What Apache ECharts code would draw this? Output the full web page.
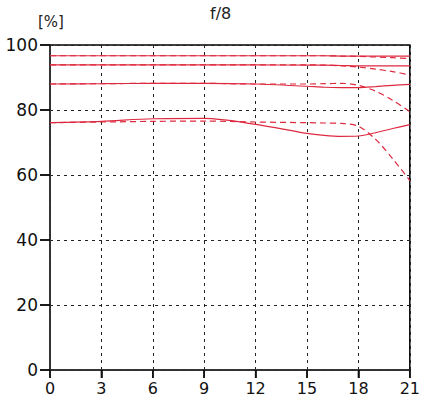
<!DOCTYPE html>
<html>
<head>
<meta charset="utf-8">
<script src="https://cdn.jsdelivr.net/npm/echarts@6/dist/echarts.min.js"></script>
<style>html,body{margin:0;padding:0;background:#fff}#c{width:423px;height:401px}</style>
</head>
<body>
<div id="c"></div>
<script>
const xs = [0, 3, 6, 9, 12, 15, 16, 17, 18, 19, 20, 21];
const s97Solid  = [96.7, 96.7, 96.7, 96.7, 96.7, 96.7, 96.7, 96.6, 96.6, 96.6, 96.6, 96.6];
const s97Dashed = [96.7, 96.7, 96.7, 96.7, 96.7, 96.7, 96.7, 96.6, 96.5, 96.3, 96.1, 95.8];
const s94Solid  = [93.9, 93.9, 93.9, 93.9, 93.9, 93.8, 93.8, 93.7, 93.6, 93.6, 93.6, 93.6];
const s94Dashed = [93.9, 93.9, 93.9, 93.9, 93.9, 93.9, 93.8, 93.6, 93.2, 92.6, 91.8, 90.8];
const s88Solid  = [88.0, 88.1, 88.2, 88.2, 88.0, 87.3, 87.0, 86.9, 86.9, 87.2, 87.6, 87.9];
const s88Dashed = [88.0, 88.1, 88.2, 88.2, 88.0, 88.0, 88.1, 88.2, 87.6, 85.8, 83.0, 79.5];
const s76Solid  = [76.1, 76.5, 77.3, 77.4, 75.6, 72.8, 72.2, 71.9, 72.0, 73.0, 74.3, 75.5];
const s76Dashed = [76.1, 76.3, 76.5, 76.6, 76.3, 76.1, 76.0, 75.9, 75.0, 71.0, 65.0, 58.3];
const xTicks = [0, 3, 6, 9, 12, 15, 18, 21];
const yTicks = [0, 20, 40, 60, 80, 100];
const title = 'f/8';
const unit = '[%]';

const RED = '#de2a40';
const font = 'DejaVu Sans';
function mk(vals, dashed) {
  return {
    type: 'line', smooth: 0.3, symbol: 'none', clip: true,
    data: xs.map((x, i) => [x, vals[i]]),
    lineStyle: { color: RED, width: 1.2, type: dashed ? [6, 4] : 'solid' },
    z: 5
  };
}
const chart = echarts.init(document.getElementById('c'), null, { renderer: 'svg' });
chart.setOption({
  animation: false,
  graphic: [
    { type: 'text', left: 210, top: 5, style: { text: title, fontFamily: font, fontSize: 16, fill: '#222', letterSpacing: 2 } },
    { type: 'text', left: 38, top: 14, style: { text: unit, fontFamily: font, fontSize: 15, fill: '#222' } }
  ],
  grid: { left: 50, right: 10, top: 45, bottom: 31, show: true, borderColor: '#000', borderWidth: 1.5, backgroundColor: 'transparent' },
  xAxis: {
    type: 'value', min: 0, max: 21, interval: 3,
    axisLine: { show: true, onZero: false, lineStyle: { color: '#333', width: 1.5 } },
    axisTick: { show: true, inside: false, length: 8, lineStyle: { color: '#000', width: 1.5 } },
    axisLabel: { fontFamily: font, fontSize: 16, color: '#111', margin: 10 },
    splitLine: { show: true, lineStyle: { color: '#222', type: [3, 4], width: 1 } }
  },
  yAxis: {
    type: 'value', min: 0, max: 100, interval: 20,
    axisLine: { show: true, onZero: false, lineStyle: { color: '#333', width: 1.5 } },
    axisTick: { show: true, inside: false, length: 10, lineStyle: { color: '#000', width: 1.5 } },
    axisLabel: { fontFamily: font, fontSize: 17, color: '#111', margin: 12 },
    splitLine: { show: true, lineStyle: { color: '#222', type: [3, 4], width: 1 } }
  },
  series: [
    mk(s97Solid, false), mk(s97Dashed, true),
    mk(s94Solid, false), mk(s94Dashed, true),
    mk(s88Solid, false), mk(s88Dashed, true),
    mk(s76Solid, false), mk(s76Dashed, true),
    {
      type: 'custom', clip: false, silent: true, z: 50,
      data: xTicks.map(v => [v, 0, 0]).concat(yTicks.map(v => [0, v, 1])),
      encode: { x: 0, y: 1 },
      renderItem: function (params, api) {
        const p = api.coord([api.value(0), api.value(1)]);
        const isX = api.value(2) === 0;
        return {
          type: 'rect',
          shape: isX ? { x: p[0] - 0.75, y: p[1], width: 1.5, height: 8 }
                     : { x: p[0] - 10, y: p[1] - 0.75, width: 10, height: 1.5 },
          style: { fill: '#111' }
        };
      }
    }
  ]
});
</script>
</body>
</html>
